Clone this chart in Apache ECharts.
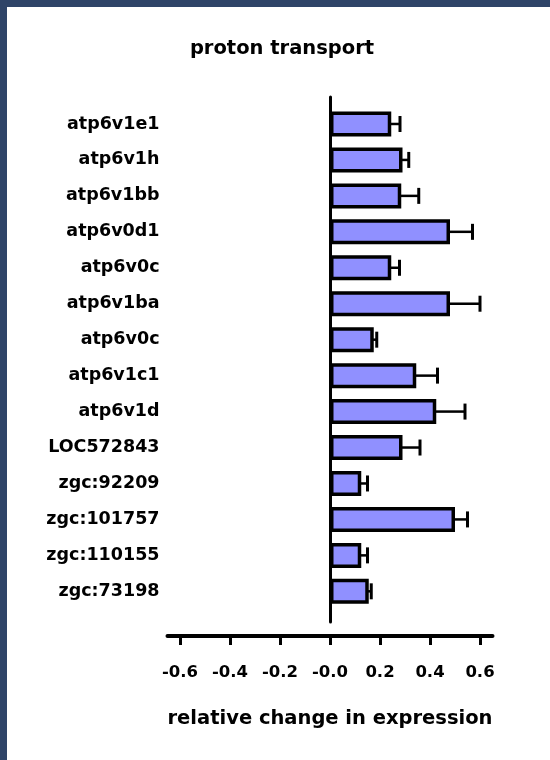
<!DOCTYPE html>
<html>
<head>
<meta charset="utf-8">
<script src="https://cdn.jsdelivr.net/npm/echarts@6/dist/echarts.min.js"></script>
<style>
  html, body { margin: 0; padding: 0; background: #fff; }
  #wrap { position: relative; width: 550px; height: 760px; overflow: hidden; }
  #chart { position: absolute; left: 0; top: 0; width: 550px; height: 760px; }
  .edge { position: absolute; background: #2f4468; }
</style>
</head>
<body>
<div id="wrap">
  <div id="chart"></div>
  <div class="edge" style="left:0;top:0;width:550px;height:7px"></div>
  <div class="edge" style="left:0;top:0;width:7px;height:760px"></div>
</div>
<script>
// Genes of the proton transport group, top to bottom
const genes = [
  'atp6v1e1', 'atp6v1h', 'atp6v1bb', 'atp6v0d1', 'atp6v0c', 'atp6v1ba', 'atp6v0c',
  'atp6v1c1', 'atp6v1d', 'LOC572843', 'zgc:92209', 'zgc:101757', 'zgc:110155', 'zgc:73198'
];
// Mean relative change in expression
const meanChange = [0.245, 0.29, 0.285, 0.48, 0.245, 0.48, 0.175, 0.345, 0.425, 0.29, 0.125, 0.50, 0.125, 0.155];
// Error (upper whisker length)
const errChange = [0.035, 0.025, 0.07, 0.09, 0.033, 0.12, 0.012, 0.085, 0.115, 0.07, 0.025, 0.05, 0.025, 0.01];
// Axis ticks and their printed labels
const tickValues = [-0.6, -0.4, -0.2, 0, 0.2, 0.4, 0.6];
const tickLabels = ['-0.6', '-0.4', '-0.2', '-0.0', '0.2', '0.4', '0.6'];

const FONT = 'DejaVu Sans';
const chart = echarts.init(document.getElementById('chart'), null, { renderer: 'canvas' });

const errData = genes.map((g, i) => [i, meanChange[i], errChange[i]]);

chart.setOption({
  animation: false,
  backgroundColor: '#ffffff',
  title: {
    text: 'proton transport',
    left: 277,
    textAlign: 'center',
    top: 34,
    textStyle: { fontFamily: FONT, fontWeight: 'bold', fontSize: 19.5, color: '#000' }
  },
  grid: [
    { left: 167.5, right: 57.5, top: 106, bottom: 150.7 },
    { left: 167.5, right: 57.5, top: 97, bottom: 138 }
  ],
  xAxis: [
    {
      gridIndex: 0,
      type: 'value',
      min: -0.65,
      max: 0.65,
      offset: 26.7,
      axisLine: { show: true, onZero: false, lineStyle: { color: '#000', width: 4 } },
      axisTick: { show: true, customValues: tickValues, length: 9, lineStyle: { color: '#000', width: 3 } },
      axisLabel: {
        customValues: tickValues,
        margin: 28,
        fontFamily: FONT, fontWeight: 'bold', fontSize: 16.5, color: '#000',
        formatter: v => {
          const k = tickValues.findIndex(t => Math.abs(t - v) < 1e-9);
          return k >= 0 ? tickLabels[k] : '';
        }
      },
      splitLine: { show: false },
      name: 'relative change in expression',
      nameLocation: 'middle',
      nameGap: 73,
      nameTextStyle: { fontFamily: FONT, fontWeight: 'bold', fontSize: 19.5, color: '#000' }
    },
    {
      gridIndex: 1,
      type: 'value',
      min: -0.65,
      max: 0.65,
      show: false
    }
  ],
  yAxis: [
    {
      gridIndex: 0,
      type: 'category',
      data: genes,
      inverse: true,
      axisLine: { show: false, onZero: false },
      axisTick: { show: false },
      axisLabel: {
        margin: 8,
        fontFamily: FONT, fontWeight: 'bold', fontSize: 17.5, color: '#000'
      }
    },
    {
      gridIndex: 1,
      type: 'value',
      min: 0,
      max: 1,
      axisLine: { show: true, onZero: true, lineStyle: { color: '#000', width: 3 } },
      axisTick: { show: false },
      axisLabel: { show: false },
      splitLine: { show: false }
    }
  ],
  series: [
    {
      type: 'bar',
      xAxisIndex: 0,
      yAxisIndex: 0,
      data: meanChange,
      barWidth: 25,
      itemStyle: { color: '#9090ff', borderColor: '#000', borderWidth: 3.5 }
    },
    {
      type: 'custom',
      xAxisIndex: 0,
      yAxisIndex: 0,
      data: errData,
      encode: { x: 1, y: 0 },
      z: 3,
      renderItem: (params, api) => {
        const idx = api.value(0);
        const m = api.value(1);
        const e = api.value(2);
        const p0 = api.coord([m, idx]);
        const p1 = api.coord([m + e, idx]);
        return {
          type: 'group',
          children: [
            { type: 'line', shape: { x1: p0[0] - 2, y1: p0[1], x2: p1[0], y2: p1[1] },
              style: { stroke: '#000', lineWidth: 2.5 } },
            { type: 'line', shape: { x1: p1[0], y1: p1[1] - 8, x2: p1[0], y2: p1[1] + 8 },
              style: { stroke: '#000', lineWidth: 3 } }
          ]
        };
      }
    }
  ]
});
</script>
</body>
</html>
